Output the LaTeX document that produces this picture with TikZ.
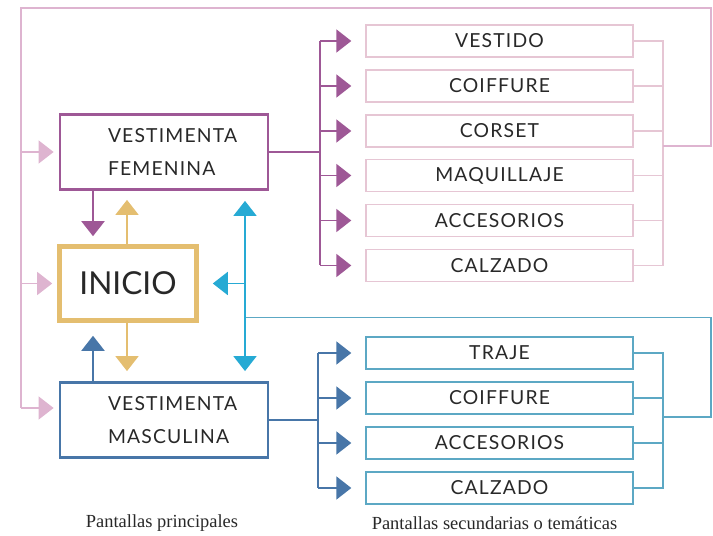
\documentclass[tikz,border=0pt]{standalone}
\usepackage{fontspec}
\setmainfont{Lato}
\newfontfamily\boxfont{Lato}[LetterSpace=6]
\newfontfamily\capfont{Liberation Serif}
\usepackage{tikz}
\usetikzlibrary{arrows.meta}
\usetikzlibrary{calc}
\definecolor{purp}{RGB}{158,88,150}
\definecolor{lpink}{RGB}{222,180,208}
\definecolor{ppink}{RGB}{230,198,212}
\definecolor{gold}{RGB}{228,190,112}
\definecolor{cyanb}{RGB}{38,170,212}
\definecolor{steel}{RGB}{72,118,168}
\definecolor{tealb}{RGB}{92,168,196}
\definecolor{txt}{RGB}{40,40,40}
\tikzstyle{tip}=[-{Triangle[width=0.46cm,length=0.3cm]}]
\tikzstyle{mainbox}=[rectangle, draw, line width=1.6pt, minimum width=4.16cm, minimum height=1.5cm, text width=3.2cm, inner xsep=0.48cm, align=left, text=txt, font=\boxfont\fontsize{11}{18.7}\selectfont]
\tikzstyle{subbox}=[rectangle, draw, line width=0.8pt, minimum width=5.34cm, minimum height=0.64cm, text=txt, font=\boxfont\fontsize{11}{13}\selectfont]
\tikzstyle{caption}=[text=txt, font=\capfont\fontsize{10.5}{12}\selectfont]

\begin{document}
\begin{tikzpicture}
  \useasboundingbox (0,0) rectangle (14.26,-10.72);
  %\draw [help lines, step=.5] (0,0) grid (14.26,-10.72);
  \node[mainbox, draw=purp] (fem) at (3.28,-3.04) {\hspace*{0.48cm}VESTIMENTA\\\hspace*{0.48cm}FEMENINA};
  \node[rectangle, draw=gold, line width=2.6pt, minimum width=2.74cm, minimum height=1.48cm, text=txt, font=\fontsize{18}{20}\selectfont] (ini) at (2.56,-5.67) {INICIO};
  \node[mainbox, draw=steel] (mas) at (3.28,-8.40) {\hspace*{0.48cm}VESTIMENTA\\\hspace*{0.48cm}MASCULINA};

  \node[subbox, draw=ppink] (s1) at (9.99,-0.82) {VESTIDO};
  \node[subbox, draw=ppink] (s2) at (9.99,-1.72) {COIFFURE};
  \node[subbox, draw=ppink] (s3) at (9.99,-2.62) {CORSET};
  \node[subbox, draw=ppink] (s4) at (9.99,-3.51) {MAQUILLAJE};
  \node[subbox, draw=ppink] (s5) at (9.99,-4.41) {ACCESORIOS};
  \node[subbox, draw=ppink] (s6) at (9.99,-5.31) {CALZADO};

  \node[subbox, draw=tealb] (m1) at (9.99,-7.06) {TRAJE};
  \node[subbox, draw=tealb] (m2) at (9.99,-7.96) {COIFFURE};
  \node[subbox, draw=tealb] (m3) at (9.99,-8.86) {ACCESORIOS};
  \node[subbox, draw=tealb] (m4) at (9.99,-9.76) {CALZADO};

  \node[caption] (cap1) at (3.24,-10.46) {Pantallas principales};
  \node[caption] (cap2) at (9.89,-10.46) {Pantallas secundarias o temáticas};

  % brackets
  \coordinate (fb) at (6.4,-3.04);
  \coordinate (fr) at (13.26,-2.92);
  \coordinate (mb) at (6.36,-8.40);
  \coordinate (mr) at (13.26,-8.34);
  \coordinate (xl) at (1.86,0);
  \coordinate (xr) at (2.54,0);
  \coordinate (bv) at (4.9,-6.35);
  \coordinate (pl) at (0.42,-0.16);

  \draw[purp, line width=1.1pt] (fem.east) -- (fb);
  \draw[purp, line width=1.1pt] (fb |- s1) -- (fb |- s6);
  \draw[purp, fill=purp, line width=1.1pt, tip, shorten >=0.28cm] (fb |- s1) -- (s1.west);
  \draw[purp, fill=purp, line width=1.1pt, tip, shorten >=0.28cm] (fb |- s2) -- (s2.west);
  \draw[purp, fill=purp, line width=1.1pt, tip, shorten >=0.28cm] (fb |- s3) -- (s3.west);
  \draw[purp, fill=purp, line width=1.1pt, tip, shorten >=0.28cm] (fb |- s4) -- (s4.west);
  \draw[purp, fill=purp, line width=1.1pt, tip, shorten >=0.28cm] (fb |- s5) -- (s5.west);
  \draw[purp, fill=purp, line width=1.1pt, tip, shorten >=0.28cm] (fb |- s6) -- (s6.west);

  \draw[steel, line width=1.1pt] (mas.east) -- (mb);
  \draw[steel, line width=1.1pt] (mb |- m1) -- (mb |- m4);
  \draw[steel, fill=steel, line width=1.1pt, tip, shorten >=0.28cm] (mb |- m1) -- (m1.west);
  \draw[steel, fill=steel, line width=1.1pt, tip, shorten >=0.28cm] (mb |- m2) -- (m2.west);
  \draw[steel, fill=steel, line width=1.1pt, tip, shorten >=0.28cm] (mb |- m3) -- (m3.west);
  \draw[steel, fill=steel, line width=1.1pt, tip, shorten >=0.28cm] (mb |- m4) -- (m4.west);

  % back to the main screens
  \draw[ppink, line width=0.8pt] (s1.east) -- (fr |- s1) -- (fr |- s6) -- (s6.east);
  \draw[ppink, line width=0.8pt] (s2.east) -- (fr |- s2);
  \draw[ppink, line width=0.8pt] (s3.east) -- (fr |- s3);
  \draw[ppink, line width=0.8pt] (s4.east) -- (fr |- s4);
  \draw[ppink, line width=0.8pt] (s5.east) -- (fr |- s5);
  \draw[lpink, line width=0.8pt] (fr) -- ++(0.96,0) |- (pl) -- (pl |- 0,-8.16);
  \draw[lpink, fill=lpink, line width=0.8pt, tip, shorten >=0.1cm] (pl |- fem) -- (fem.west);
  \draw[lpink, fill=lpink, line width=0.8pt, tip, shorten >=0.1cm] (pl |- ini) -- (ini.west);
  \draw[lpink, fill=lpink, line width=0.8pt, tip, shorten >=0.1cm] (pl |- 0,-8.16) -- (0,-8.16 -| mas.west);

  \draw[tealb, line width=0.9pt] (m1.east) -- (mr |- m1) -- (mr |- m4) -- (m4.east);
  \draw[tealb, line width=0.9pt] (m2.east) -- (mr |- m2);
  \draw[tealb, line width=0.9pt] (m3.east) -- (mr |- m3);
  \draw[tealb, line width=0.9pt] (mr) -- ++(0.96,0) |- (bv);
  \draw[cyanb, fill=cyanb, line width=1.1pt, {Triangle[width=0.46cm,length=0.3cm]}-{Triangle[width=0.46cm,length=0.3cm]}, shorten <=0.2cm, shorten >=0.2cm] (bv |- fem.south) -- (bv |- mas.north);
  \draw[cyanb, fill=cyanb, line width=1.1pt, tip, shorten >=0.28cm] (bv |- ini) -- (ini.east);

  % between the main screens
  \draw[purp, fill=purp, line width=1.1pt, tip, shorten >=0.16cm] (xl |- fem.south) -- (xl |- ini.north);
  \draw[gold, fill=gold, line width=1.1pt, tip, shorten >=0.18cm] (xr |- ini.north) -- (xr |- fem.south);
  \draw[gold, fill=gold, line width=1.1pt, tip, shorten >=0.2cm] (xr |- ini.south) -- (xr |- mas.north);
  \draw[steel, fill=steel, line width=1.1pt, tip, shorten >=0.26cm] (xl |- mas.north) -- (xl |- ini.south);

\end{tikzpicture}
\end{document}
